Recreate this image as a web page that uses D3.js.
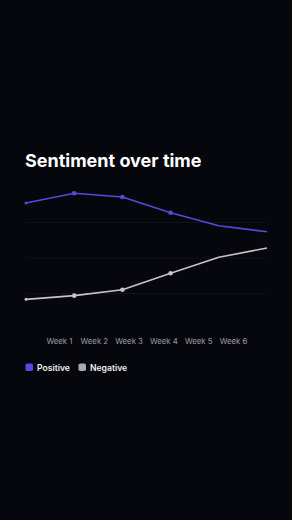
<!DOCTYPE html>
<html>
<head>
<meta charset="utf-8">
<script src="https://cdnjs.cloudflare.com/ajax/libs/d3/7.8.5/d3.min.js"></script>
<style>
	body{
	    margin:0;
	    background-color:#06070d;
	}
	svg text{
	    font-family: Inter, "Noto Sans", sans-serif;
	}
</style>
</head>
<body>
<svg id="chart" width="292" height="520"></svg>
<script>
	var weeks = ["Week 1", "Week 2", "Week 3", "Week 4", "Week 5", "Week 6"];
	var positive = [71, 76.5, 74.4, 65.5, 58.2, 54.8];
	var negative = [16.7, 18.8, 22.1, 31.4, 40.4, 45.6];
	var gridValues = [20, 40, 60];
	var seriesNames = ["Positive", "Negative"];
	var seriesColors = ["#5a48dc", "#c4c4ca"];
	var legendColors = ["#5a48e6", "#a9a9b0"];

	var svg = d3.select("#chart");

	svg.append("rect")
		.attr("width", 292)
		.attr("height", 520)
		.attr("fill", "#06070d");

	// title
	svg.append("text")
		.attr("x", 25)
		.attr("y", 167)
		.style("font-size", "18px")
		.style("font-weight", 700)
		.attr("fill", "#ffffff")
		.text("Sentiment over time");

	var x = d3.scalePoint().domain(weeks).range([26, 267]);
	var xLabels = d3.scalePoint().domain(weeks).range([59, 233]);
	var y = d3.scaleLinear().domain([0, 100]).range([329, 151.5]);

	// grid
	svg.append("g").selectAll("line")
		.data(gridValues)
		.enter().append("line")
		.attr("x1", 26)
		.attr("x2", 266)
		.attr("y1", function(d){ return y(d); })
		.attr("y2", function(d){ return y(d); })
		.attr("stroke", "#10121b")
		.attr("stroke-width", 1);

	// axis labels
	var axis = svg.append("g")
		.attr("transform", "translate(0,338)")
		.call(d3.axisBottom(xLabels).tickSize(0).tickPadding(0));
	axis.select(".domain").remove();
	axis.selectAll("text")
		.attr("dy", "0.71em")
		.style("font-size", "7.8px")
		.style("font-family", "Inter, 'Noto Sans', sans-serif")
		.attr("fill", "#9b9ba6");

	var series = [positive, negative];
	var line = d3.line()
		.x(function(d, i){ return x(weeks[i]); })
		.y(function(d){ return y(d); });

	series.forEach(function(values, s){
		svg.append("path")
			.datum(values)
			.attr("d", line)
			.attr("fill", "none")
			.attr("stroke", seriesColors[s])
			.attr("stroke-width", 1.6)
			.attr("stroke-linejoin", "round");

		svg.append("g").selectAll("circle")
			.data(values.slice(0, 4))
			.enter().append("circle")
			.attr("cx", function(d, i){ return x(weeks[i]); })
			.attr("cy", function(d){ return y(d); })
			.attr("r", function(d, i){ return i == 0 ? 1.5 : 2.3; })
			.attr("fill", seriesColors[s]);
	});

	// legend
	var legend = svg.append("g").attr("transform", "translate(25,363.5)");
	var legendX = [0, 53];
	seriesNames.forEach(function(name, i){
		legend.append("rect")
			.attr("x", legendX[i] + 0.5)
			.attr("y", 0)
			.attr("width", 7.5)
			.attr("height", 7.5)
			.attr("rx", 1.8)
			.attr("fill", legendColors[i]);
		legend.append("text")
			.attr("x", legendX[i] + 12)
			.attr("y", 7.3)
			.style("font-size", "8.6px")
			.style("font-weight", 600)
			.attr("fill", "#f2f2f5")
			.text(name);
	});
</script>
</body>
</html>
